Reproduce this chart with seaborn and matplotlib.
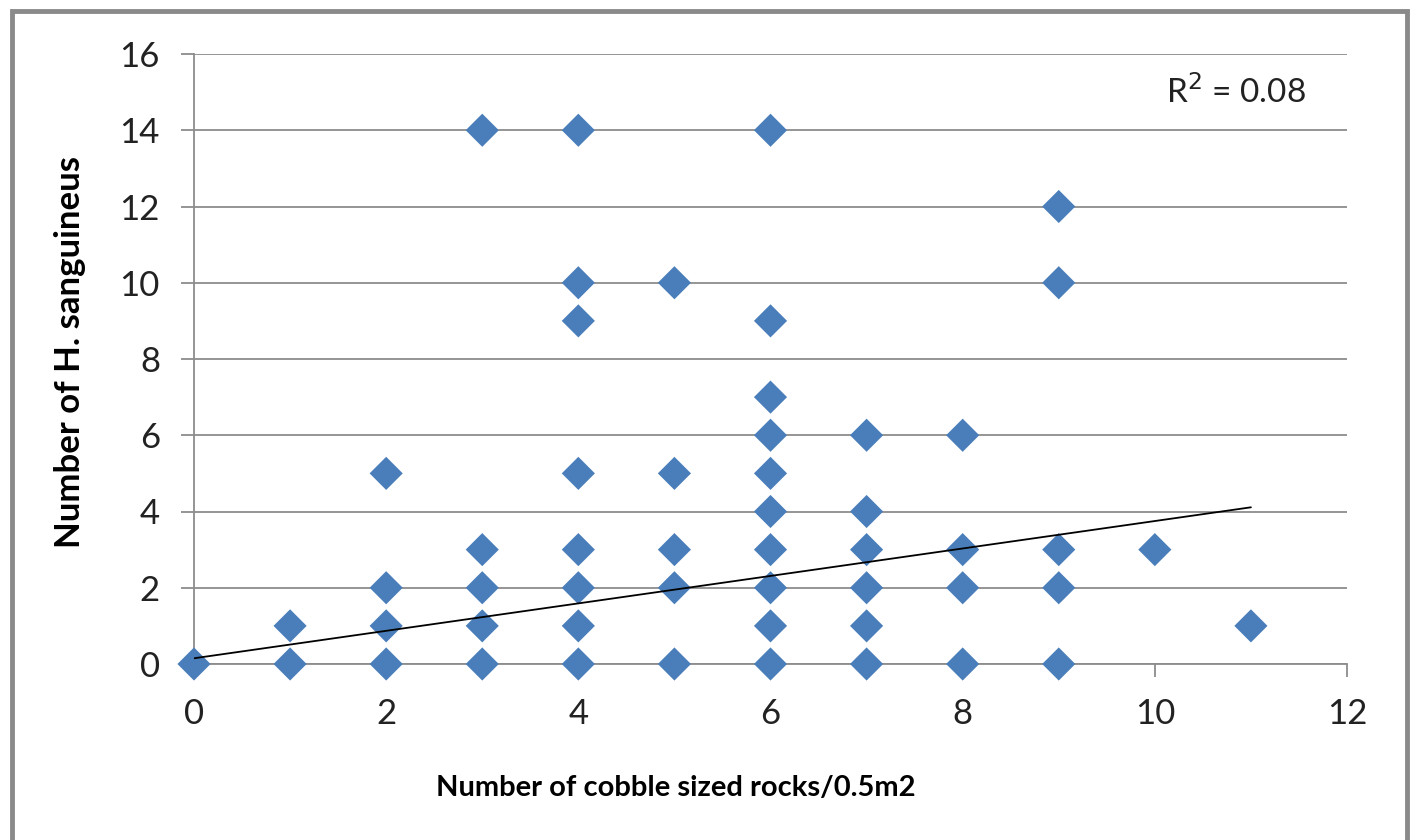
import matplotlib
matplotlib.use("Agg")
import matplotlib.pyplot as plt
import seaborn as sns
import numpy as np
import pandas as pd
from matplotlib.patches import Rectangle

# ---- data ----
rocks = [0,
         1, 1,
         2, 2, 2, 2,
         3, 3, 3, 3, 3,
         4, 4, 4, 4, 4, 4, 4, 4,
         5, 5, 5, 5, 5,
         6, 6, 6, 6, 6, 6, 6, 6, 6, 6,
         7, 7, 7, 7, 7, 7,
         8, 8, 8, 8,
         9, 9, 9, 9, 9,
         10,
         11]
crabs = [0,
         0, 1,
         0, 1, 2, 5,
         0, 1, 2, 3, 14,
         0, 1, 2, 3, 5, 9, 10, 14,
         0, 2, 3, 5, 10,
         0, 1, 2, 3, 4, 5, 6, 7, 9, 14,
         0, 1, 2, 3, 4, 6,
         0, 2, 3, 6,
         0, 2, 3, 10, 12,
         3,
         1]
trend_intercept = 0.15
trend_slope = 0.36
r2_text = "R$^2$ = 0.08"
x_label = "Number of cobble sized rocks/0.5m2"
y_label = "Number of H. sanguineus"
x_ticks = [0, 2, 4, 6, 8, 10, 12]
y_ticks = [0, 2, 4, 6, 8, 10, 12, 14, 16]

df = pd.DataFrame({"rocks": rocks, "crabs": crabs})
trend_x = np.array([min(rocks), max(rocks)], dtype=float)
trend_df = pd.DataFrame({"x": trend_x, "y": trend_intercept + trend_slope * trend_x})

sns.set_theme(style="white")
plt.rcParams["font.family"] = ["Lato", "DejaVu Sans"]

fig = plt.figure(figsize=(14.13, 8.4), dpi=100)
ax = fig.add_axes([194/1413, 1-664/840, (1347-194)/1413, (664-54)/840])

grid_c = "#8c8c8c"
ax.set_axisbelow(True)
ax.yaxis.grid(True, color=grid_c, linewidth=1.3)
ax.xaxis.grid(False)

sns.scatterplot(data=df, x="rocks", y="crabs", marker="D", s=285,
                color="#4A7EBB", edgecolor="none", linewidth=0, ax=ax, zorder=3,
                clip_on=False)
sns.lineplot(data=trend_df, x="x", y="y", color="black", linewidth=1.3, ax=ax,
             zorder=4)

ax.set_xlim(0, 12)
ax.set_ylim(0, 16)
ax.set_xticks(x_ticks)
ax.set_yticks(y_ticks)
ax.set_xticklabels([str(t) for t in x_ticks])
ax.set_yticklabels([str(t) for t in y_ticks])

for s in ["top", "right"]:
    ax.spines[s].set_visible(False)
for s in ["left", "bottom"]:
    ax.spines[s].set_visible(True)
    ax.spines[s].set_color(grid_c)
    ax.spines[s].set_linewidth(1.3)

ax.tick_params(axis="both", which="major", direction="out", length=9.5,
               width=1.3, color=grid_c, labelsize=25, labelcolor="#222222",
               left=True, bottom=True)
ax.tick_params(axis="y", pad=15)
ax.tick_params(axis="x", pad=15)

ax.set_xlabel(x_label, fontsize=21, fontweight="bold", color="black")
ax.set_ylabel(y_label, fontsize=25, fontweight="bold", color="black")
ax.xaxis.set_label_coords((676-194)/1153, -(775-664)/610)
ax.yaxis.set_label_coords(-(194-86)/1153, (664-352)/610)

ax.text((1236-194)/1153, (664-92)/610, r2_text, transform=ax.transAxes,
        fontsize=24, ha="center", va="center", color="#222222")

border = Rectangle((12/1413, -0.05), (1407-12)/1413, 1.05 - 11/840,
                   transform=fig.transFigure, fill=False, edgecolor="#8a8a8a",
                   linewidth=3.5, clip_on=False)
fig.patches.append(border)

fig.savefig("out.png", dpi=100, facecolor="white")
